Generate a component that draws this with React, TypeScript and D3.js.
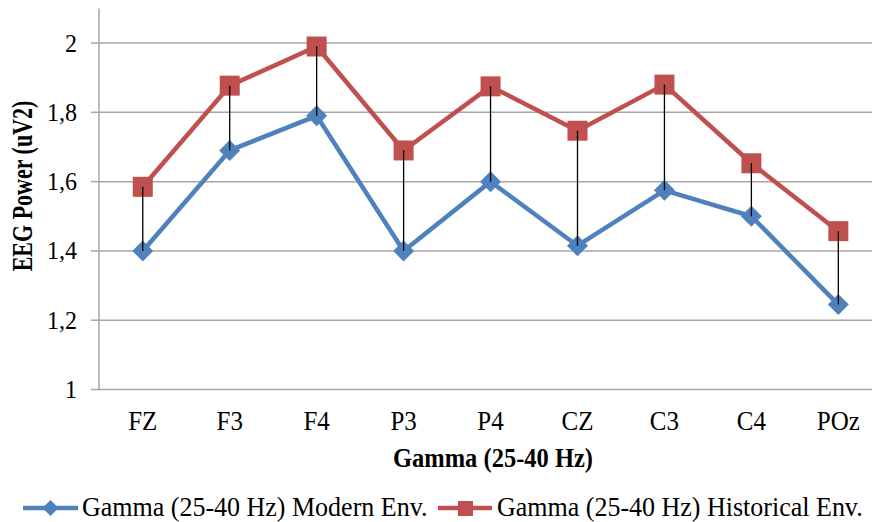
import React from "react";
import * as d3 from "d3";

const categories = ["FZ", "F3", "F4", "P3", "P4", "CZ", "C3", "C4", "POz"];
const modernEnv = [1.4, 1.69, 1.79, 1.4, 1.6, 1.415, 1.575, 1.5, 1.245];
const historicalEnv = [1.585, 1.877, 1.99, 1.69, 1.875, 1.747, 1.88, 1.653, 1.457];
const yTicks = [1, 1.2, 1.4, 1.6, 1.8, 2];
const seriesNames = ["Gamma (25-40 Hz) Modern Env.", "Gamma (25-40 Hz) Historical Env."];
const xTitle = "Gamma (25-40 Hz)";
const yTitle = "EEG Power (uV2)";

const W = 872;
const H = 522;
const BLUE = "#4F81BD";
const RED = "#C0504D";
const GRID = "#A6A6A6";
const FONT = "'Liberation Serif', 'Times New Roman', serif";

export default function App() {
  const x = d3.scalePoint<string>().domain(categories).range([99.3, 881.8]).padding(0.5);
  const y = d3.scaleLinear().domain([1, 2.1]).range([389.5, 8.4]);
  const left = 99;
  const fmt = (v: number) => (v === 1 || v === 2 ? String(v) : d3.format(".1f")(v).replace(".", ","));

  const line = d3
    .line<number>()
    .x((_, i) => x(categories[i]) as number)
    .y((d) => y(d));

  const diamond = (cx: number, cy: number, r: number) =>
    `M${cx},${cy - r}L${cx + r},${cy}L${cx},${cy + r}L${cx - r},${cy}Z`;

  return (
    <svg
      width={W}
      height={H}
      style={{ position: "absolute", left: 0, top: 0, background: "#fff" }}
      fontFamily={FONT}
    >
      <rect width={W} height={H} fill="#fff" />
      {/* horizontal gridlines and y ticks */}
      {yTicks.map((t) => (
        <g key={t}>
          <line x1={left} x2={W} y1={y(t)} y2={y(t)} stroke={GRID} strokeWidth={1.5} />
          <line x1={91} x2={left} y1={y(t)} y2={y(t)} stroke={GRID} strokeWidth={1.5} />
          <text
            transform={`translate(77,${y(t) + 8.5}) scale(1,1.06)`}
            textAnchor="end"
            fontSize={24}
            fill="#000"
          >
            {fmt(t)}
          </text>
        </g>
      ))}
      {/* y axis line */}
      <line x1={left} x2={left} y1={y(2.1)} y2={y(1)} stroke={GRID} strokeWidth={1.5} />

      {/* category labels */}
      {categories.map((c) => (
        <text
          key={c}
          transform={`translate(${x(c)},430) scale(1,1.07)`}
          textAnchor="middle"
          fontSize={25}
          fill="#000"
        >
          {c}
        </text>
      ))}

      {/* series lines */}
      <path d={line(modernEnv) || ""} fill="none" stroke={BLUE} strokeWidth={4.5} strokeLinejoin="round" />
      <path d={line(historicalEnv) || ""} fill="none" stroke={RED} strokeWidth={4.5} strokeLinejoin="round" />

      {/* markers */}
      {modernEnv.map((v, i) => (
        <path key={"m" + i} d={diamond(x(categories[i]) as number, y(v), 10.5)} fill={BLUE} />
      ))}
      {historicalEnv.map((v, i) => (
        <rect
          key={"h" + i}
          x={(x(categories[i]) as number) - 10}
          y={y(v) - 10}
          width={20}
          height={20}
          fill={RED}
        />
      ))}

      {/* high-low lines */}
      {categories.map((c, i) => (
        <line
          key={"hl" + c}
          x1={x(c)}
          x2={x(c)}
          y1={y(historicalEnv[i])}
          y2={y(modernEnv[i])}
          stroke="#000"
          strokeWidth={1.3}
        />
      ))}

      {/* axis titles */}
      <text
        transform="translate(493,467) scale(1,1.15)"
        textAnchor="middle"
        fontSize={24.5}
        fontWeight="bold"
        fill="#000"
      >
        {xTitle}
      </text>
      <text
        transform="translate(32,186) rotate(-90) scale(1,1.3)"
        textAnchor="middle"
        fontSize={22}
        fontWeight="bold"
        fill="#000"
      >
        {yTitle}
      </text>

      {/* legend */}
      <g>
        <line x1={23} x2={78} y1={508} y2={508} stroke={BLUE} strokeWidth={4.5} />
        <path d={diamond(50.5, 508, 8)} fill={BLUE} />
        <text transform="translate(82,516) scale(1,1.06)" fontSize={26} fill="#000">
          {seriesNames[0]}
        </text>
        <line x1={438} x2={492} y1={508} y2={508} stroke={RED} strokeWidth={4.5} />
        <rect x={458} y={501} width={15} height={15} fill={RED} />
        <text transform="translate(497,516) scale(1,1.06)" fontSize={26} fill="#000">
          {seriesNames[1]}
        </text>
      </g>
    </svg>
  );
}
